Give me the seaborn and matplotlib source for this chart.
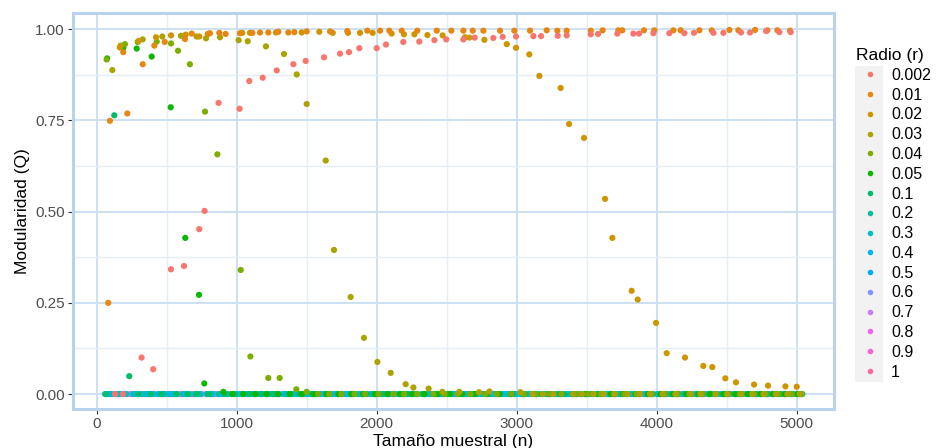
import matplotlib
matplotlib.use("Agg")
import matplotlib.pyplot as plt
from matplotlib.lines import Line2D
from matplotlib.patches import Rectangle
from matplotlib.ticker import FixedLocator
import seaborn as sns
import pandas as pd

plt.rcParams["font.family"] = ["Liberation Sans", "DejaVu Sans"]

# ---- data: sample size (n) and modularity (Q) per radius ----
radios = ["0.002", "0.01", "0.02", "0.03", "0.04", "0.05", "0.1", "0.2",
          "0.3", "0.4", "0.5", "0.6", "0.7", "0.8", "0.9", "1"]

n_0002 = [131, 188, 321, 404, 531, 624, 733, 771, 871, 1021, 1090, 1186, 1286,
          1405, 1493, 1624, 1738, 1802, 1876, 2000, 2066, 2190, 2304, 2412, 2497,
          2619, 2700, 2833, 2900, 2995, 3119, 3174, 3293, 3357, 3529, 3581, 3719,
          3833, 3874, 3976, 4090, 4198, 4266, 4405, 4476, 4602, 4666, 4781, 4876,
          4957]
q_0002 = [0.0, 0.0, 0.100, 0.068, 0.342, 0.351, 0.452, 0.502, 0.798, 0.782, 0.858,
          0.867, 0.887, 0.904, 0.913, 0.923, 0.933, 0.937, 0.948, 0.948, 0.958,
          0.965, 0.966, 0.970, 0.972, 0.972, 0.977, 0.976, 0.979, 0.980, 0.981,
          0.981, 0.982, 0.983, 0.986, 0.987, 0.988, 0.988, 0.988, 0.989, 0.989,
          0.989, 0.990, 0.990, 0.990, 0.991, 0.991, 0.995, 0.992, 0.992]

n_001 = [83, 95, 190, 219, 329, 412, 486, 631, 679, 809, 876, 921, 1024, 1112,
         1167, 1226, 1298, 1369, 1412, 1500, 1667, 1790, 1933, 2024, 2090, 2179,
         2290, 2429, 2533, 2619, 2686, 2762, 2881, 2983, 3095, 3214, 3290, 3357,
         3529, 3614, 3726, 3754, 3909, 3983, 4119, 4171, 4305, 4393, 4519, 4583,
         4702, 4790, 4862, 4952]
q_001 = [0.250, 0.749, 0.937, 0.769, 0.904, 0.955, 0.965, 0.973, 0.988, 0.989,
         0.990, 0.987, 0.989, 0.990, 0.991, 0.991, 0.993, 0.991, 0.992, 0.994,
         0.994, 0.995, 0.996, 0.996, 0.996, 0.996, 0.996, 0.996, 0.996, 0.996,
         0.996, 0.996, 0.996, 0.996, 0.996, 0.997, 0.996, 0.996, 0.996, 0.997,
         0.997, 0.997, 0.997, 0.997, 0.997, 0.997, 0.997, 0.997, 0.998, 0.997,
         0.998, 0.997, 0.997, 0.996]

n_002 = [165, 300, 424, 531, 636, 733, 793, 1040, 1095, 1281, 1464, 1590, 1686,
         1795, 1881, 1971, 2107, 2195, 2269, 2362, 2471, 2631, 2662, 2769, 2929,
         2995, 3090, 3162, 3314, 3374, 3481, 3631, 3683, 3821, 3864, 3995, 4071,
         4202, 4333, 4397, 4490, 4566, 4695, 4795, 4919, 5000]
q_002 = [0.950, 0.968, 0.978, 0.983, 0.985, 0.980, 0.987, 0.990, 0.990, 0.991,
         0.991, 0.993, 0.990, 0.990, 0.990, 0.990, 0.988, 0.986, 0.986, 0.984,
         0.983, 0.978, 0.977, 0.971, 0.959, 0.949, 0.931, 0.872, 0.839, 0.740,
         0.702, 0.535, 0.428, 0.283, 0.259, 0.195, 0.112, 0.100, 0.077, 0.074,
         0.043, 0.032, 0.026, 0.023, 0.021, 0.020]

n_003 = [112, 171, 329, 469, 602, 714, 781, 881, 1014, 1079, 1209, 1338, 1429,
         1500, 1636, 1695, 1814, 1909, 2005, 2100, 2207, 2262, 2371, 2469, 2590,
         2731, 2805, 3026, 3112, 3187, 3263, 3402, 3466, 3548, 3622, 3703, 3792,
         3881, 3952, 4043, 4134, 4244, 4312, 4421, 4503, 4604, 4683, 4762, 4851,
         4933, 5021]
q_003 = [0.888, 0.955, 0.972, 0.980, 0.982, 0.980, 0.975, 0.978, 0.970, 0.967,
         0.953, 0.932, 0.876, 0.795, 0.640, 0.395, 0.266, 0.154, 0.088, 0.058,
         0.027, 0.018, 0.015, 0.006, 0.006, 0.005, 0.007, 0.005, 0.0, 0.0, 0.0,
         0.0, 0.0, 0.0, 0.0, 0.0, 0.0, 0.0, 0.0, 0.0, 0.0, 0.0, 0.0, 0.0, 0.0,
         0.0, 0.0, 0.0, 0.0, 0.0, 0.0]

n_004 = [71, 202, 293, 429, 531, 581, 666, 774, 862, 1029, 1098, 1226, 1307,
         1426, 1500, 1583, 1661, 1748, 1842, 1917, 2013, 2121, 2196, 2288, 2404,
         2486, 2577, 2669, 2776, 2858, 2961, 3053, 3139, 3231, 3318, 3427, 3509,
         3598, 3694, 3768, 3857, 3963, 4056, 4147, 4235, 4327, 4418, 4511, 4594,
         4693, 4777, 4869, 4963, 5036]
q_004 = [0.917, 0.959, 0.965, 0.966, 0.961, 0.941, 0.904, 0.774, 0.657, 0.340,
         0.103, 0.044, 0.044, 0.013, 0.006, 0.0, 0.0, 0.0, 0.0, 0.0, 0.0, 0.0,
         0.0, 0.0, 0.0, 0.0, 0.0, 0.0, 0.0, 0.0, 0.0, 0.0, 0.0, 0.0, 0.0, 0.0,
         0.0, 0.0, 0.0, 0.0, 0.0, 0.0, 0.0, 0.0, 0.0, 0.0, 0.0, 0.0, 0.0, 0.0,
         0.0, 0.0, 0.0, 0.0]

n_005 = [75, 190, 286, 393, 529, 633, 731, 769, 905, 968, 1047, 1133, 1214, 1296,
         1381, 1467, 1552, 1641, 1727, 1818, 1903, 1986, 2078, 2167, 2253, 2342,
         2437, 2523, 2611, 2703, 2787, 2878, 2962, 3049, 3141, 3228, 3310, 3399,
         3493, 3582, 3671, 3757, 3848, 3936, 4027, 4113, 4208, 4296, 4380, 4476,
         4561, 4649, 4741, 4829, 4917, 5005]
q_005 = [0.920, 0.949, 0.947, 0.925, 0.786, 0.428, 0.272, 0.029, 0.006, 0.0, 0.0,
         0.0, 0.0, 0.0, 0.0, 0.0, 0.0, 0.0, 0.0, 0.0, 0.0, 0.0, 0.0, 0.0, 0.0,
         0.0, 0.0, 0.0, 0.0, 0.0, 0.0, 0.0, 0.0, 0.0, 0.0, 0.0, 0.0, 0.0, 0.0,
         0.0, 0.0, 0.0, 0.0, 0.0, 0.0, 0.0, 0.0, 0.0, 0.0, 0.0, 0.0, 0.0, 0.0,
         0.0, 0.0, 0.0]

n_01 = [68, 126, 233, 297, 384, 462, 571, 648, 716, 803, 917, 985, 1093, 1178,
        1262, 1371, 1449, 1538, 1652, 1747, 1831, 1924, 2036, 2118, 2215, 2323,
        2417, 2508, 2596, 2687, 2793, 2871, 2968, 3059, 3147, 3238, 3344, 3426,
        3517, 3609, 3705, 3788, 3874, 3968, 4063, 4151, 4247, 4330, 4426, 4518,
        4607, 4708, 4792, 4886, 4971, 5030]
q_01 = [0.0, 0.764, 0.049] + [0.0] * 53

n_02 = [75, 158, 262, 345, 437, 521, 615, 702, 788, 872, 963, 1057, 1146, 1238,
        1333, 1411, 1503, 1596, 1683, 1779, 1866, 1957, 2049, 2161, 2248, 2336,
        2429, 2533, 2618, 2707, 2811, 2902, 2987, 3082, 3171, 3265, 3362, 3455,
        3540, 3633, 3729, 3815, 3911, 4002, 4094, 4188, 4276, 4368, 4461, 4553,
        4646, 4739, 4831, 4921, 5012]
n_03 = [60, 143, 214, 318, 401, 488, 559, 662, 741, 826, 934, 1020, 1107, 1199,
        1287, 1390, 1468, 1562, 1637, 1725, 1813, 1907, 1991, 2084, 2190, 2273,
        2367, 2455, 2571, 2650, 2742, 2840, 2935, 3025, 3113, 3206, 3301, 3392,
        3488, 3577, 3667, 3754, 3846, 3941, 4032, 4120, 4216, 4310, 4398, 4490,
        4582, 4670, 4768, 4858, 4950, 5040]
n_04 = [88, 179, 276, 362, 447, 534, 628, 720, 812, 897, 990, 1075, 1165, 1255,
        1349, 1432, 1521, 1617, 1706, 1792, 1887, 1978, 2072, 2140, 2232, 2349,
        2445, 2546, 2633, 2725, 2823, 2917, 3007, 3098, 3189, 3282, 3371, 3470,
        3555, 3650, 3741, 3833, 3921, 4018, 4108, 4201, 4290, 4384, 4473, 4568,
        4658, 4751, 4842, 4935, 5022]
n_05 = [100, 190, 290, 373, 470, 552, 640, 733, 820, 908, 1001, 1088, 1183, 1271,
        1360, 1455, 1546, 1629, 1719, 1805, 1898, 1998, 2090, 2176, 2264, 2380,
        2470, 2560, 2665, 2758, 2852, 2948, 3040, 3130, 3222, 3318, 3408, 3500,
        3595, 3688, 3780, 3870, 3958, 4047, 4140, 4230, 4320, 4412, 4505, 4595,
        4688, 4780, 4872, 4962]
n_06 = [112, 205, 303, 392, 481, 577, 668, 751, 843, 941, 1031, 1126, 1214, 1302,
        1398, 1486, 1571, 1667, 1756, 1843, 1939, 2027, 2109, 2205, 2296, 2391,
        2484, 2581, 2673, 2768, 2862, 2953, 3046, 3139, 3234, 3327, 3417, 3511,
        3604, 3697, 3789, 3880, 3975, 4067, 4159, 4252, 4346, 4439, 4531, 4626,
        4718, 4809, 4901, 4993]
n_07 = [170, 255, 348, 555, 697, 862, 1120, 1217, 1308, 1540, 1764, 1950, 2120,
        2340, 2555, 2782, 2990, 3215, 3433, 3660, 3890, 4110, 4335, 4560, 4790,
        5015]
n_08 = [122, 238, 412, 596, 781, 978, 1169, 1392, 1577, 1797, 1980, 2199, 2412,
        2627, 2846, 3061, 3279, 3496, 3713, 3929, 4146, 4363, 4580, 4797, 5008]
n_09 = [138, 326, 507, 688, 894, 1083, 1284, 1475, 1688, 1871, 2061, 2282, 2483,
        2695, 2883, 3104, 3301, 3522, 3741, 3952, 4174, 4392, 4611, 4828]
n_1 = [151, 293, 463, 655, 837, 1040, 1228, 1419, 1617, 1826, 2014, 2220, 2420,
       2640, 2831, 3040, 3246, 3456, 3659, 3867, 4079, 4285, 4494, 4702, 4915]

hue_colors = ["#F8766D", "#E68613", "#CD9600", "#ABA300", "#7CAE00", "#0CB702",
              "#00BE67", "#00C19A", "#00BFC4", "#00B8E7", "#00A9FF", "#8494FF",
              "#C77CFF", "#ED68ED", "#FF61CC", "#FF68A1"]
palette = dict(zip(radios, hue_colors))

# rows are stacked so that the large radii sit underneath
series = [
    ("1", n_1, [0.0] * len(n_1)),
    ("0.9", n_09, [0.0] * len(n_09)),
    ("0.8", n_08, [0.0] * len(n_08)),
    ("0.7", n_07, [0.0] * len(n_07)),
    ("0.6", n_06, [0.0] * len(n_06)),
    ("0.5", n_05, [0.0] * len(n_05)),
    ("0.2", n_02, [0.0] * len(n_02)),
    ("0.4", n_04, [0.0] * len(n_04)),
    ("0.3", n_03, [0.0] * len(n_03)),
    ("0.1", n_01, q_01),
    ("0.05", n_005, q_005),
    ("0.04", n_004, q_004),
    ("0.03", n_003, q_003),
    ("0.02", n_002, q_002),
    ("0.01", n_001, q_001),
    ("0.002", n_0002, q_0002),
]
frames = [pd.DataFrame({"n": n, "Q": q, "Radio": r}) for r, n, q in series]
df = pd.concat(frames, ignore_index=True)

# ---- figure ----
W, H = 937, 448
fig = plt.figure(figsize=(W / 100, H / 100), dpi=100)
px_l, px_r, px_t, px_b = 72.7, 834.0, 13.3, 409.0
ax = fig.add_axes([px_l / W, 1 - px_b / H, (px_r - px_l) / W, (px_b - px_t) / H])
ax.set_facecolor("white")

sns.scatterplot(data=df, x="n", y="Q", hue="Radio", hue_order=radios,
                palette=palette, s=20, linewidth=0, alpha=1, legend=False,
                ax=ax, zorder=3)

ax.set_xlim(-171, 5266)
ax.set_ylim(-0.041, 1.0436)

ax.xaxis.set_major_locator(FixedLocator([0, 1000, 2000, 3000, 4000, 5000]))
ax.xaxis.set_minor_locator(FixedLocator([500, 1500, 2500, 3500, 4500]))
ax.yaxis.set_major_locator(FixedLocator([0, 0.25, 0.5, 0.75, 1.0]))
ax.yaxis.set_minor_locator(FixedLocator([0.125, 0.375, 0.625, 0.875]))
ax.set_yticklabels(["0.00", "0.25", "0.50", "0.75", "1.00"])
ax.set_xticklabels(["0", "1000", "2000", "3000", "4000", "5000"])

ax.grid(which="major", color="#CCE0F4", linewidth=1.4, zorder=0)
ax.grid(which="minor", color="#E3EEF9", linewidth=1.0, zorder=0)
ax.set_axisbelow(True)
for sp in ax.spines.values():
    sp.set_color("#B9D3EE")
    sp.set_linewidth(2.2)

ax.tick_params(which="major", length=3.3, width=0.8, color="#333333",
               labelsize=11, labelcolor="#4D4D4D", pad=2.5)
ax.tick_params(which="minor", length=0)

ax.set_xlabel("Tamaño muestral (n)", fontsize=12.5, color="black")
ax.set_ylabel("Modularidad (Q)", fontsize=12.5, color="black")
ax.xaxis.set_label_coords(0.5, -0.063)
ax.yaxis.set_label_coords(-0.056, 0.5)

# ---- legend ----
handles = [Line2D([], [], marker="o", linestyle="", markersize=4,
                  markerfacecolor=palette[r], markeredgewidth=0) for r in radios]
fig.add_artist(Rectangle((855 / W, 1 - 382 / H), 28 / W, (382 - 66) / H,
                         transform=fig.transFigure, facecolor="#F2F2F2",
                         edgecolor="none", zorder=0))
leg = fig.legend(handles, radios, title="Radio (r)", loc="upper left",
                 bbox_to_anchor=(856 / W, 1 - 48 / H), frameon=False,
                 fontsize=11.5, title_fontsize=12.5, alignment="left",
                 handlelength=1.75, handletextpad=0.45, labelspacing=0.3,
                 borderpad=0.0, borderaxespad=0.0)

fig.savefig("out.png", dpi=100, facecolor="white")
